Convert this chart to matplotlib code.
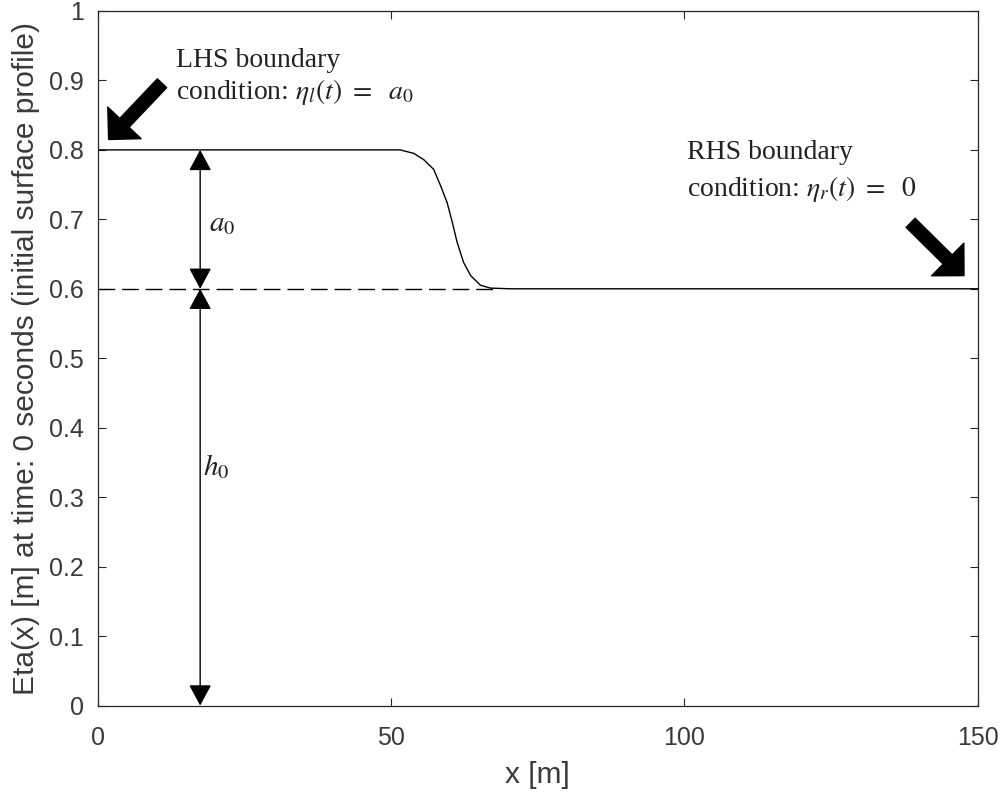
import matplotlib
matplotlib.use("Agg")
import matplotlib.pyplot as plt

# ------------------------------------------------------
# Initial surface profile
# ------------------------------------------------------
x_profile = [0, 46.5, 51.6, 53.9, 55.6, 57.3, 58.5, 59.6, 60.5,
             61.3, 62.4, 63.6, 65.3, 67.0, 70.4, 150]
eta_profile = [0.8, 0.8, 0.8, 0.795, 0.786, 0.772, 0.748, 0.724, 0.695,
               0.667, 0.638, 0.619, 0.605, 0.601, 0.6, 0.6]

# still water level (dashed reference line)
swl_x = [0, 68]
swl_y = [0.6, 0.6]

# dimension arrows for a0 and h0
dim_x = 17.5
a0_span = [0.8, 0.6]
h0_span = [0.6, 0.0]

# boundary-condition pointers: (tail, head)
lhs_arrow = [(11.0, 0.896), (1.9, 0.815)]
rhs_arrow = [(138.6, 0.695), (147.7, 0.619)]

TEXT_COLOR = "#3a3a3a"
SERIF = "Liberation Serif"

plt.rcParams["font.family"] = ["Liberation Sans", "DejaVu Sans"]
plt.rcParams["mathtext.fontset"] = "stix"

fig = plt.figure(figsize=(10.05, 7.99), dpi=100)
ax = fig.add_axes([97.5 / 1005, (799 - 705.5) / 799,
                   880 / 1005, (705.5 - 11) / 799])

ax.plot(x_profile, eta_profile, color="black", linewidth=1.0)
ax.plot(swl_x, swl_y, color="black", linewidth=1.0, dashes=(12, 5))

# ------------------------------------------------------
# Dimension arrows
# ------------------------------------------------------
dim_style = "<|-|>,head_length=1.3,head_width=0.7"
for top, bottom in (a0_span, h0_span):
    ax.annotate("", xy=(dim_x, bottom), xytext=(dim_x, top),
                arrowprops=dict(arrowstyle=dim_style, color="black",
                                linewidth=1.0, mutation_scale=10,
                                shrinkA=0, shrinkB=0))

ax.text(21.3, 0.695, r"$a_0$", fontsize=21, ha="center", va="center",
        color="#222222")
ax.text(20.3, 0.344, r"$h_0$", fontsize=21, ha="center", va="center",
        color="#222222")

# ------------------------------------------------------
# Boundary condition pointers and labels
# ------------------------------------------------------
big_style = "simple,head_length=0.5,head_width=1.0,tail_width=0.28"
for tail, head in (lhs_arrow, rhs_arrow):
    ax.annotate("", xy=head, xytext=tail,
                arrowprops=dict(arrowstyle=big_style, color="black",
                                mutation_scale=33, shrinkA=0, shrinkB=0))

ax.text(13.3, 0.920, "LHS boundary", fontsize=20, family=SERIF,
        color="#222222", va="baseline")
ax.text(13.3, 0.874, r"condition: $\eta_l(t)\ =\ \ a_0$", fontsize=20,
        family=SERIF, color="#222222", va="baseline")

ax.text(100.4, 0.7865, "RHS boundary", fontsize=20, family=SERIF,
        color="#222222", va="baseline")
ax.text(100.4, 0.7335, r"condition: $\eta_r(t)\ =\ \ 0$", fontsize=20,
        family=SERIF, color="#222222", va="baseline")

# ------------------------------------------------------
# Axes styling
# ------------------------------------------------------
ax.set_xlim(0, 150)
ax.set_ylim(0, 1)
ax.set_xticks([0, 50, 100, 150])
ax.set_yticks([i / 10 for i in range(11)])
ax.set_yticklabels(["0", "0.1", "0.2", "0.3", "0.4", "0.5", "0.6",
                    "0.7", "0.8", "0.9", "1"])

ax.tick_params(direction="in", length=6, width=0.8, top=True, right=True,
               labelsize=18, colors="#262626", labelcolor=TEXT_COLOR)
ax.tick_params(axis="x", pad=15)
ax.tick_params(axis="y", pad=10)
for spine in ax.spines.values():
    spine.set_color("#262626")
    spine.set_linewidth(0.9)

ax.set_xlabel("x [m]", fontsize=21.5, color=TEXT_COLOR, labelpad=8)
ax.set_ylabel("Eta(x) [m] at time: 0 seconds (initial surface profile)",
              fontsize=21.5, color=TEXT_COLOR, labelpad=6)

fig.savefig("out.png", dpi=100)
